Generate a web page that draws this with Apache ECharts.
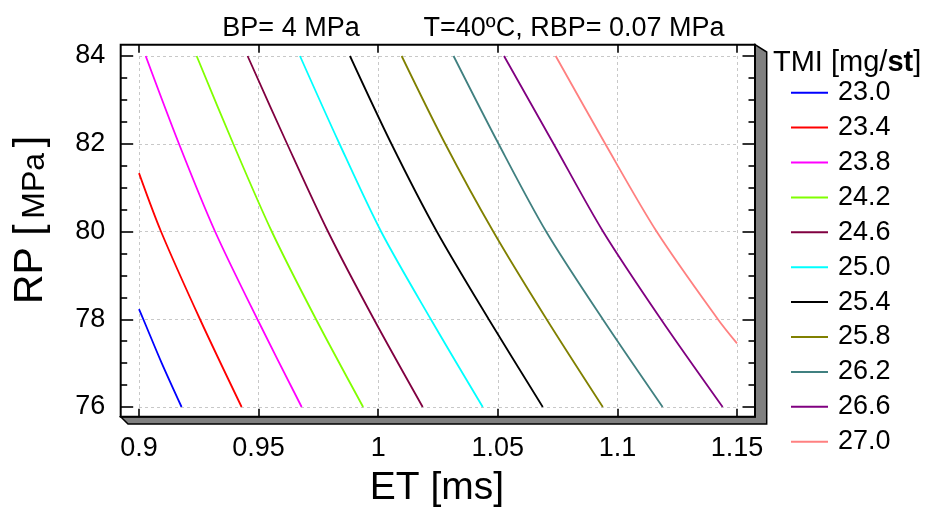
<!DOCTYPE html>
<html><head><meta charset="utf-8">
<script src="https://cdn.jsdelivr.net/npm/echarts@6/dist/echarts.min.js"></script>
<style>html,body{margin:0;padding:0;background:#fff}#c{width:927px;height:512px}</style>
</head><body><div id="c"></div>
<script>
// ---- data ----
const levels = ['23.0','23.4','23.8','24.2','24.6','25.0','25.4','25.8','26.2','26.6','27.0'];
const levelColors = ['#0000ff','#ff0000','#ff00ff','#80ff00','#800040','#00ffff','#000000','#808000','#408080','#800080','#ff8080'];

const et_230 = [0.9, 0.9018, 0.9095, 0.9178];
const rp_230 = [78.23, 78, 77, 76];
const et_234 = [0.9, 0.9092, 0.9255, 0.9429];
const rp_234 = [81.33, 80, 78, 76];
const et_238 = [0.9028, 0.9167, 0.9318, 0.9495, 0.968];
const rp_238 = [84, 82, 80, 78, 76];
const et_242 = [0.9241, 0.9394, 0.9555, 0.974, 0.9937];
const rp_242 = [84, 82, 80, 78, 76];
const et_246 = [0.9454, 0.9619, 0.979, 0.9982, 1.0186];
const rp_246 = [84, 82, 80, 78, 76];
const et_250 = [0.9673, 0.9838, 1.0012, 1.022, 1.0437];
const rp_250 = [84, 82, 80, 78, 76];
const et_254 = [0.9882, 1.0055, 1.0245, 1.0462, 1.0688];
const rp_254 = [84, 82, 80, 78, 76];
const et_258 = [1.0098, 1.028, 1.0481, 1.0704, 1.0939];
const rp_258 = [84, 82, 80, 78, 76];
const et_262 = [1.0315, 1.0503, 1.0702, 1.0939, 1.1189];
const rp_262 = [84, 82, 80, 78, 76];
const et_266 = [1.0526, 1.0733, 1.094, 1.1182, 1.144];
const rp_266 = [84, 82, 80, 78, 76];
const et_270 = [1.0742, 1.0949, 1.1164, 1.142, 1.15];
const rp_270 = [84, 82, 80, 78, 77.45];

const contourET = [et_230, et_234, et_238, et_242, et_246, et_250, et_254, et_258, et_262, et_266, et_270];
const contourRP = [rp_230, rp_234, rp_238, rp_242, rp_246, rp_250, rp_254, rp_258, rp_262, rp_266, rp_270];

const xMin = 0.9, xMax = 1.15, xStep = 0.05;
const yMin = 76, yMax = 84, yStep = 2;

// ---- chart ----
const FONT = '"Liberation Sans", Arial, sans-serif';
const chart = echarts.init(document.getElementById('c'), null, {renderer: 'canvas'});

const series = levels.map((name, i) => ({
  name: name,
  type: 'line',
  data: contourET[i].map((x, k) => [x, contourRP[i][k]]),
  symbol: 'none',
  smooth: 0.3,
  lineStyle: {color: levelColors[i], width: 1.8},
  itemStyle: {color: levelColors[i]},
  animation: false,
  silent: true
}));

const tickStyle = {color: '#000', width: 1.6};

chart.setOption({
  animation: false,
  backgroundColor: '#fff',
  textStyle: {fontFamily: FONT},
  grid: {left: 139, top: 56, width: 598, height: 351, containLabel: false, outerBoundsMode: 'none'},
  xAxis: [
    {type: 'value', min: xMin, max: xMax, interval: xStep, position: 'bottom', offset: 9.7,
     axisLine: {show: false},
     axisTick: {show: true, inside: true, length: 8, lineStyle: tickStyle},
     axisLabel: {show: true, margin: 18.5, fontSize: 27, color: '#000', fontFamily: FONT, showMinLabel: true, showMaxLabel: true},
     splitLine: {show: true, lineStyle: {color: '#c8c8c8', type: [3, 3], width: 1}}},
    {type: 'value', min: xMin, max: xMax, interval: xStep, position: 'top', offset: 11.3,
     axisLine: {show: false},
     axisTick: {show: true, inside: true, length: 8, lineStyle: tickStyle},
     axisLabel: {show: false}, splitLine: {show: false}}
  ],
  yAxis: [
    {type: 'value', min: yMin, max: yMax, interval: yStep, position: 'left', offset: 18.3,
     axisLine: {show: false},
     axisTick: {show: true, inside: true, length: 12.5, lineStyle: tickStyle},
     minorTick: {show: true, splitNumber: 4, length: 6.5, lineStyle: tickStyle},
     axisLabel: {show: true, margin: 15.5, fontSize: 27, color: '#000', fontFamily: FONT, showMinLabel: true, showMaxLabel: true},
     splitLine: {show: true, lineStyle: {color: '#c8c8c8', type: [3, 3], width: 1}}},
    {type: 'value', min: yMin, max: yMax, interval: yStep, position: 'right', offset: 18,
     axisLine: {show: false},
     axisTick: {show: true, inside: true, length: 12.5, lineStyle: tickStyle},
     minorTick: {show: true, splitNumber: 4, length: 6.5, lineStyle: tickStyle},
     axisLabel: {show: false}, splitLine: {show: false}}
  ],
  legend: {
    orient: 'vertical', left: 791, top: 79.2, padding: 0,
    itemWidth: 37, itemHeight: 14, itemGap: 7.9,
    data: levels.map((n, i) => ({name: n, icon: 'path://M0,6.5L37,6.5L37,8.5L0,8.5Z', itemStyle: {color: levelColors[i]}})),
    textStyle: {fontSize: 27, lineHeight: 27, color: '#000', fontFamily: FONT, padding: [0, 0, 0, 5]},
    selectedMode: false
  },
  graphic: [
    {type: 'polygon', z: 1, silent: true,
     shape: {points: [[120.7, 416.7], [128, 424], [766.7, 424], [766.7, 52], [755, 44.7], [755, 416.7]]},
     style: {fill: '#808080', stroke: '#000', lineWidth: 1.5}},
    {type: 'rect', z: 100, silent: true,
     shape: {x: 120.7, y: 44.7, width: 634.3, height: 372},
     style: {fill: 'none', stroke: '#000', lineWidth: 2}},
    {type: 'text', x: 291, y: 28.3, silent: true,
     style: {text: 'BP= 4 MPa', fontSize: 27, fontFamily: FONT, fill: '#000',
             textAlign: 'center', align: 'center', textVerticalAlign: 'middle', verticalAlign: 'middle'}},
    {type: 'text', x: 574, y: 28.3, silent: true,
     style: {text: 'T=40ºC, RBP= 0.07 MPa', fontSize: 27, fontFamily: FONT, fill: '#000',
             textAlign: 'center', align: 'center', textVerticalAlign: 'middle', verticalAlign: 'middle'}},
    {type: 'text', x: 437, y: 488, silent: true,
     style: {text: 'ET [ms]', fontSize: 39, fontFamily: FONT, fill: '#000',
             textAlign: 'center', align: 'center', textVerticalAlign: 'middle', verticalAlign: 'middle'}},
    {type: 'text', x: 31, y: 220, rotation: Math.PI / 2, silent: true,
     style: {text: '{a|RP [}{s| }{b|MPa}{s| }{a|]}', fontFamily: FONT, fill: '#000',
             textAlign: 'center', align: 'center', textVerticalAlign: 'middle', verticalAlign: 'middle',
             rich: {a: {fontSize: 41, lineHeight: 41, fontFamily: FONT, verticalAlign: 'bottom'},
                    b: {fontSize: 32, lineHeight: 32, fontFamily: FONT, verticalAlign: 'bottom'},
                    s: {fontSize: 20, lineHeight: 20, fontFamily: FONT, verticalAlign: 'bottom'}}}},
    {type: 'text', x: 773, y: 62.5, silent: true,
     style: {text: '{n|TMI [mg/}{b|st}{n|]}', fontFamily: FONT, fill: '#000',
             textAlign: 'left', align: 'left', textVerticalAlign: 'middle', verticalAlign: 'middle',
             rich: {n: {fontSize: 29, fontFamily: FONT}, b: {fontSize: 29, fontWeight: 'bold', fontFamily: FONT}}}}
  ],
  series: series
});
</script>
</body></html>
